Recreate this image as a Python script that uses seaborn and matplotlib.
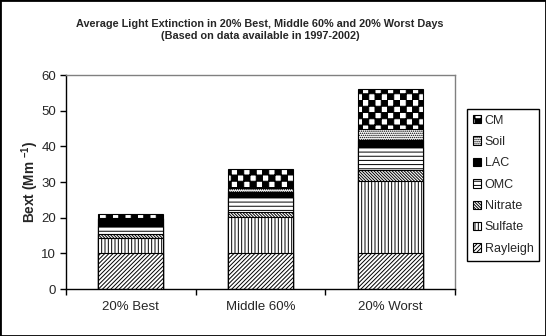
import warnings
warnings.filterwarnings("ignore")
import numpy as np
import pandas as pd
import matplotlib
matplotlib.use("Agg")
import matplotlib.pyplot as plt
import matplotlib.hatch as mhatch
from matplotlib.path import Path
from matplotlib.patches import Rectangle
import seaborn as sns

# ---- data ----
categories = ['20% Best', 'Middle 60%', '20% Worst']
rayleigh = [10.0, 10.0, 10.1]
sulfate = [4.4, 10.2, 20.3]
nitrate = [1.0, 1.5, 2.9]
omc = [2.3, 4.0, 6.4]
lac = [2.0, 1.6, 2.1]
soil = [0.2, 0.9, 3.0]
cm = [1.0, 5.4, 11.3]
components = ['Rayleigh', 'Sulfate', 'Nitrate', 'OMC', 'LAC', 'Soil', 'CM']
y_ticks = [0, 10, 20, 30, 40, 50, 60]
title = ("Average Light Extinction in 20% Best, Middle 60% and 20% Worst Days\n"
         "(Based on data available in 1997-2002)")


# ---- custom checkerboard hatch ----
class CheckerHatch(mhatch.HatchPatternBase):
    filled = True

    def __init__(self, hatch, density):
        self.n = hatch.count('c') * 16
        self.num_vertices = (self.n * self.n // 2) * 5 if self.n else 0

    def set_vertices_and_codes(self, vertices, codes):
        n = self.n
        s = 1.0 / n
        k = 0
        for i in range(n):
            for j in range(n):
                if (i + j) % 2 == 0:
                    x0, y0 = i * s, j * s
                    vertices[k:k + 5] = [[x0, y0], [x0 + s, y0], [x0 + s, y0 + s],
                                         [x0, y0 + s], [x0, y0]]
                    codes[k:k + 5] = [Path.MOVETO, Path.LINETO, Path.LINETO,
                                      Path.LINETO, Path.CLOSEPOLY]
                    k += 5


mhatch._hatch_types.append(CheckerHatch)

sns.set_style("white")
plt.rcParams['font.family'] = ['Liberation Sans', 'DejaVu Sans']
plt.rcParams['hatch.linewidth'] = 0.7
plt.rcParams['hatch.color'] = 'black'
plt.rcParams['mathtext.fontset'] = 'custom'
plt.rcParams['mathtext.rm'] = 'Liberation Sans'
plt.rcParams['mathtext.bf'] = 'Liberation Sans:bold'

df = pd.DataFrame({'Category': categories, 'Rayleigh': rayleigh, 'Sulfate': sulfate,
                   'Nitrate': nitrate, 'OMC': omc, 'LAC': lac, 'Soil': soil, 'CM': cm})
cum = df[components].cumsum(axis=1)

styles = {
    'Rayleigh': dict(color='white', hatch='/' * 8),
    'Sulfate': dict(color='white', hatch='|' * 5),
    'Nitrate': dict(color='white', hatch='\\' * 11),
    'OMC': dict(color='white', hatch='----'),
    'LAC': dict(color='black', hatch=None),
    'Soil': dict(color='white', hatch='........'),
    'CM': dict(color='white', hatch='c'),
}

W, H = 546, 336
fig = plt.figure(figsize=(W / 100, H / 100), dpi=100)
fig.patch.set_facecolor('white')
ax = fig.add_axes([66 / W, 1 - 289 / H, (455 - 66) / W, (289 - 75) / H])

for comp in reversed(components):
    st = styles[comp]
    sns.barplot(x=df['Category'], y=cum[comp], color=st['color'], hatch=st['hatch'],
                edgecolor='black', linewidth=0.8, width=0.5, saturation=1,
                ax=ax, label=comp, errorbar=None)

if ax.get_legend() is not None:
    ax.get_legend().remove()

ax.set_ylim(0, 60)
ax.set_xlim(-0.5, 2.5)
ax.set_yticks(y_ticks)
ax.set_yticklabels([str(v) for v in y_ticks], fontsize=9.5)
ax.set_xlabel('')
ax.set_ylabel(r'Bext (Mm $^{\mathbf{-1}}$)', fontsize=9.8, fontweight='bold')
ax.yaxis.set_label_coords(-0.064, 0.5)
ax.tick_params(axis='y', direction='out', length=4, width=1, color='black', pad=3, left=True)
ax.tick_params(axis='x', which='major', length=0, pad=9, labelsize=9.5)
ax.set_xticks([-0.5, 0.5, 1.5, 2.5], minor=True)
ax.tick_params(axis='x', which='minor', direction='out', length=4, width=1, color='black', bottom=True)
for s in ['left', 'bottom']:
    ax.spines[s].set_color('black')
    ax.spines[s].set_linewidth(1)
for s in ['top', 'right']:
    ax.spines[s].set_color('#808080')
    ax.spines[s].set_linewidth(1)
ax.grid(False)

fig.text(260 / W, 1 - 30 / H, title, ha='center', va='center', fontsize=7.8,
         fontweight='bold', linespacing=1.15)

handles, labels = ax.get_legend_handles_labels()
leg = fig.legend(handles, labels, loc='upper left', bbox_to_anchor=(467 / W, 1 - 109 / H),
                 fontsize=9, frameon=True, fancybox=False, shadow=False, framealpha=1,
                 edgecolor='black', handlelength=0.65, handleheight=0.65,
                 handletextpad=0.3, labelspacing=0.75, borderpad=0.45, borderaxespad=0)
leg.get_frame().set_linewidth(1)

fig.add_artist(Rectangle((0, 0), 1, 1, transform=fig.transFigure, fill=False,
                         edgecolor='black', linewidth=2, clip_on=False))

fig.savefig('out.png', dpi=100, facecolor='white')
